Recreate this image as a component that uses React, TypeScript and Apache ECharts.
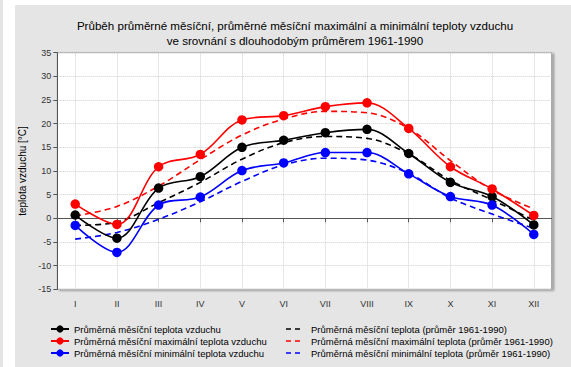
import React, { useEffect, useRef } from "react";
import * as echarts from "echarts";

const monthValues = [1, 2, 3, 4, 5, 6, 7, 8, 9, 10, 11, 12];
const monthLabels = ["I", "II", "III", "IV", "V", "VI", "VII", "VIII", "IX", "X", "XI", "XII"];

const avgTemp = [0.7, -4.2, 6.4, 8.8, 15.0, 16.5, 18.1, 18.8, 13.7, 7.6, 4.6, -1.4];
const maxTemp = [3.0, -1.3, 10.9, 13.5, 20.8, 21.7, 23.6, 24.4, 19.0, 10.9, 6.2, 0.6];
const minTemp = [-1.5, -7.2, 2.8, 4.5, 10.1, 11.7, 13.9, 13.9, 9.4, 4.6, 2.8, -3.4];

const normAvg = [-1.5, -0.8, 3.3, 7.6, 12.5, 16.0, 17.3, 16.9, 13.6, 8.0, 3.9, -0.4];
const normMax = [0.5, 2.5, 6.8, 12.4, 17.6, 21.0, 22.6, 22.3, 19.0, 12.2, 6.0, 2.0];
const normMin = [-4.4, -3.0, -0.2, 3.5, 7.8, 11.3, 12.7, 12.3, 9.5, 4.3, 0.9, -2.1];

const seriesNames = [
  "Průměrná měsíční teplota vzduchu",
  "Průměrná měsíční maximální teplota vzduchu",
  "Průměrná měsíční minimální teplota vzduchu",
];
const normNames = [
  "Průměrná měsíční teplota (průměr 1961-1990)",
  "Průměrná měsíční maximální teplota (průměr 1961-1990)",
  "Průměrná měsíční minimální teplota (průměr 1961-1990)",
];

const titleText =
  "Průběh průměrné měsíční, průměrné měsíční maximální a minimální teploty vzduchu\nve srovnání s dlouhodobým průměrem 1961-1990";
const yAxisName = "teplota vzduchu [°C]";

const colors = ["#000000", "#ff0000", "#0000ff"];

const pair = (arr: number[]) => arr.map((v, i) => [monthValues[i], v]);

const dashIcon = "path://M0,0H5V1.5H0Z M9,0H14V1.5H9Z M20,0H20.01V1.5H20Z";

export default function App() {
  const ref = useRef<HTMLDivElement>(null);
  useEffect(() => {
    if (!ref.current) return;
    const chart = echarts.init(ref.current, null, { renderer: "svg" });
    const font = "'Liberation Sans', Arial, sans-serif";
    const solid = [avgTemp, maxTemp, minTemp];
    const norms = [normAvg, normMax, normMin];
    const series: any[] = [];
    norms.forEach((d, i) => {
      series.push({
        name: normNames[i],
        type: "line",
        data: pair(d),
        smooth: 0.35,
        symbol: "none",
        lineStyle: { color: colors[i], width: 1.6, type: [6, 4] },
        itemStyle: { color: colors[i] },
        z: 2,
      });
    });
    solid.forEach((d, i) => {
      series.push({
        name: seriesNames[i],
        type: "line",
        data: pair(d),
        smooth: 0.35,
        symbol: "circle",
        symbolSize: 9.5,
        lineStyle: { color: colors[i], width: 1.6 },
        itemStyle: { color: colors[i] },
        z: 3,
      });
    });
    const legendText = { fontFamily: font, fontSize: 9.5, color: "#000", lineHeight: 10 };
    chart.setOption({
      animation: false,
      backgroundColor: "#e5e5e5",
      textStyle: { fontFamily: font },
      title: {
        text: titleText,
        left: 275,
        textAlign: "center",
        top: 8,
        textStyle: { fontFamily: font, fontSize: 11.6, fontWeight: "normal", color: "#000", lineHeight: 15 },
      },
      grid: {
        left: 42.3,
        top: 47.7,
        right: 19.3,
        bottom: 77.7,
        containLabel: false,
        outerBoundsMode: "none",
        show: true,
        backgroundColor: "#ffffff",
        borderColor: "#9a9a9a",
        borderWidth: 1,
        shadowColor: "rgba(0,0,0,0.35)",
        shadowBlur: 2,
        shadowOffsetX: 2,
        shadowOffsetY: 1,
      },
      legend: [
        {
          data: seriesNames,
          orient: "vertical",
          left: 30,
          top: 314,
          itemWidth: 18,
          itemHeight: 9,
          itemGap: 2,
          textStyle: legendText,
        },
        {
          data: normNames.map((n) => ({ name: n, icon: dashIcon })),
          orient: "vertical",
          left: 266,
          top: 314,
          itemWidth: 20,
          itemHeight: 1.5,
          itemGap: 2,
          textStyle: legendText,
        },
      ],
      xAxis: {
        type: "value",
        min: 0.57,
        max: 12.43,
        axisLine: { show: true, lineStyle: { color: "#555", width: 1 } },
        axisTick: { show: true, customValues: monthValues, length: 4, lineStyle: { color: "#555" } },
        axisLabel: {
          customValues: monthValues,
          formatter: (v: number) => monthLabels[Math.round(v) - 1] ?? "",
          fontFamily: font,
          fontSize: 9,
          color: "#333",
          margin: 10,
        },
        splitLine: { show: true, lineStyle: { color: "#cfcfcf", type: "dotted", width: 1 } },
      },
      yAxis: {
        type: "value",
        min: -15,
        max: 35,
        interval: 5,
        name: yAxisName,
        nameLocation: "middle",
        nameGap: 23,
        nameTextStyle: { fontFamily: font, fontSize: 10, color: "#000" },
        axisLine: { show: true, lineStyle: { color: "#555", width: 1 } },
        axisTick: { show: true, length: 4, lineStyle: { color: "#555" } },
        axisLabel: { fontFamily: font, fontSize: 9, color: "#333", margin: 6 },
        splitLine: { show: true, lineStyle: { color: "#cfcfcf", type: "dotted", width: 1 } },
      },
      series,
    });
    return () => chart.dispose();
  }, []);
  return (
    <div style={{ position: "absolute", left: 0, top: 0, width: 571, height: 367, background: "#ffffff" }}>
      <div style={{ position: "absolute", left: 0, top: 0, width: 3, height: 367, background: "#e5e5e5" }} />
      <div ref={ref} style={{ position: "absolute", left: 15, top: 5, width: 556, height: 362 }} />
    </div>
  );
}
